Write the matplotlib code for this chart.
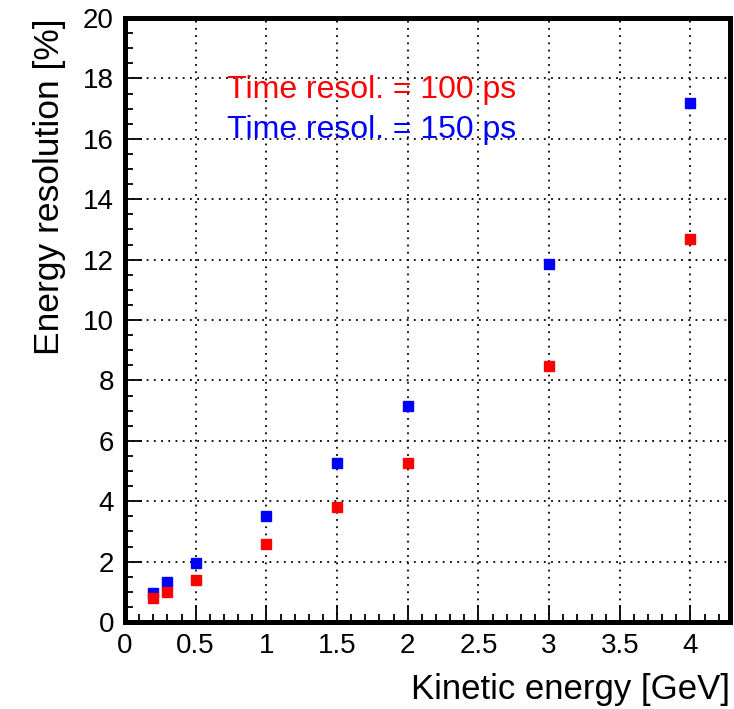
import matplotlib
matplotlib.use('Agg')
import matplotlib.pyplot as plt
from matplotlib.ticker import MultipleLocator

plt.rcParams['font.family'] = ['Liberation Sans', 'DejaVu Sans']

# kinetic energy [GeV]
energy = [0.2, 0.3, 0.5, 1.0, 1.5, 2.0, 3.0, 4.0]
# energy resolution [%]
res_100ps = [0.79, 1.0, 1.39, 2.58, 3.8, 5.26, 8.48, 12.68]
res_150ps = [0.96, 1.32, 1.95, 3.5, 5.26, 7.15, 11.85, 17.2]

fig = plt.figure(figsize=(7.34, 7.09), dpi=100)
ax = fig.add_axes([0.1703, 0.1227, 0.8243, 0.8519])

ax.plot(energy, res_150ps, 's', color='blue', ms=7.5, mec='blue', zorder=3)
ax.plot(energy, res_100ps, 's', color='red', ms=7.5, mec='red', zorder=3)

ax.set_xlim(0, 4.28)
ax.set_ylim(0, 20)
ax.xaxis.set_major_locator(MultipleLocator(0.5))
ax.xaxis.set_minor_locator(MultipleLocator(0.1))
ax.yaxis.set_major_locator(MultipleLocator(2))
ax.yaxis.set_minor_locator(MultipleLocator(0.5))
ax.set_xticks([0, 0.5, 1, 1.5, 2, 2.5, 3, 3.5, 4])
ax.set_xticklabels(['0', '0.5', '1', '1.5', '2', '2.5', '3', '3.5', '4'])

# dotted grid on major ticks, ROOT-like frame
ax.grid(True, which='major', color='black', linestyle=(0, (1, 3)), linewidth=1.3)
ax.tick_params(which='both', direction='in', top=False, right=False,
               width=1.3, color='black', labelsize=20)
ax.tick_params(which='major', length=12, pad=8)
ax.tick_params(which='minor', length=6)
for s in ax.spines.values():
    s.set_linewidth(3.6)

ax.set_xlabel('Kinetic energy [GeV]', fontsize=25, loc='right', labelpad=10)
ax.set_ylabel('Energy resolution [%]', fontsize=25.5, loc='top', labelpad=12)

ax.text(0.72, 17.6, 'Time resol. = 100 ps', color='red', fontsize=23, va='center')
ax.text(0.72, 16.3, 'Time resol. = 150 ps', color='blue', fontsize=23, va='center')

fig.savefig('out.png', dpi=100)
